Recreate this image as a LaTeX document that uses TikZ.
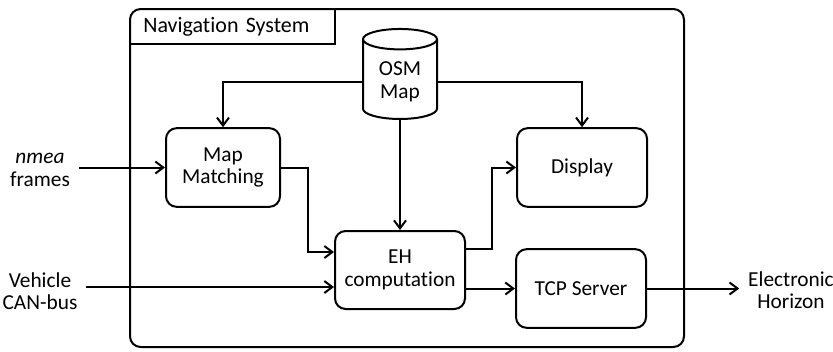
\documentclass[tikz,border=0pt]{standalone}
\usepackage{fontspec}
\setmainfont{Carlito}[Ligatures=CommonOff]
\usetikzlibrary{positioning,shapes.geometric,arrows.meta}

\begin{document}
\begin{tikzpicture}[
    x=0.75pt,y=-0.75pt,
    >={Straight Barb[length=6pt,width=9pt]},
    every node/.style={font=\fontsize{16}{17}\selectfont},
    every path/.style={line width=1.5pt},
    block/.style={draw,rounded corners=8pt,align=center,minimum width=97.5pt,minimum height=59pt},
    iolabel/.style={align=center,inner sep=6pt},
    database/.style={cylinder,draw,shape border rotate=90,aspect=0.4,minimum height=67.5pt,minimum width=55.5pt,align=center}
    ]
    \useasboundingbox (0,0) rectangle (833,351);

    \node (navsys) [draw,rounded corners=8pt,minimum width=415.5pt,minimum height=253.5pt,outer sep=0pt] at (407,178) {};
    \node (title) [anchor=north west,text width=134pt,inner xsep=10pt,minimum height=26.25pt,outer sep=0pt,font=\fontsize{16.5}{18}\selectfont] at (navsys.north west) {Navigation System};
    \draw (title.north east) |- (title.south west);

    \node (osm) [database] at (400,82) {OSM\\Map};
    \node (mm) [block,minimum width=85.5pt] at (223,167.5) {Map\\Matching};
    \node (disp) [block] at (582,167.5) {Display};
    \node (eh) [block,minimum height=58.5pt] at (400,270) {EH\\computation};
    \node (tcp) [block] at (581,288.5) {TCP Server};

    \node (nmea) [iolabel] at (40,170) {\textit{nmea}\\frames};
    \node (vehicle) [iolabel] at (40,291) {Vehicle\\CAN-bus};
    \node (horizon) [iolabel] at (791,290) {Electronic\\Horizon};

    \draw[->] (osm.180) -| (mm.north);
    \draw[->] (osm.0) -| (disp.north);
    \draw[->] (osm.270) -- (eh.north);
    \draw[->] (nmea.east |- mm.west) -- (mm.west);
    \draw[->] (mm.east) -- ++(27,0) |- ([yshift=13.5pt]eh.west);
    \coordinate (canin) at ([yshift=-12.75pt]eh.west);
    \draw[->] (vehicle.east |- canin) -- (canin);
    \draw[->] ([yshift=15.75pt]eh.east) -- ++(26,0) |- (disp.west);
    \draw[->] (eh.east |- tcp.west) -- (tcp.west);
    \draw[->] (tcp.east) -- (horizon.west |- tcp.east);
\end{tikzpicture}
\end{document}
